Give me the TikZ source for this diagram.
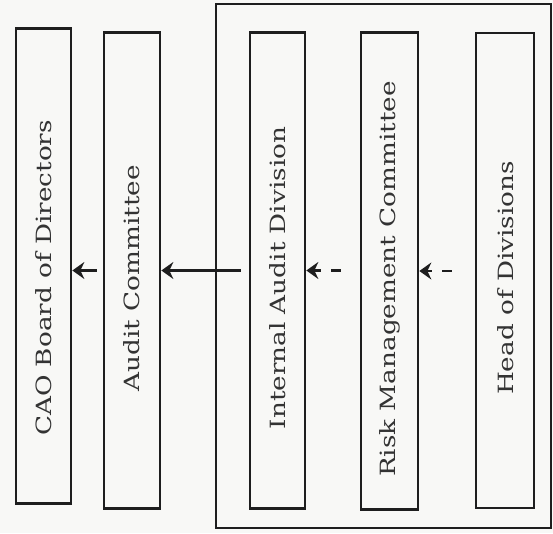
\documentclass[tikz,border=0pt]{standalone}
\usepackage{fontspec}
\setmainfont{DejaVu Serif}
\usetikzlibrary{arrows.meta}
\definecolor{ink}{HTML}{1E1E1E}
\definecolor{txt}{HTML}{333333}
\definecolor{paper}{HTML}{F8F8F6}
\begin{document}
\begin{tikzpicture}[x=1pt,y=-1pt,
  box/.style={draw=ink, line width=2.7pt, minimum width=56pt, minimum height=476pt, inner sep=0pt},
  lbl/.style={text=txt, font=\fontsize{21}{25}\selectfont, inner sep=0pt},
  frame/.style={draw=ink, line width=2.7pt, inner sep=0pt},
  flow/.style={draw=ink, line width=2.6pt, -{Stealth[length=12pt,width=17pt,inset=4pt]}},
  dflow/.style={flow, dash pattern=on 10pt off 10pt},
]
\fill[paper] (0,0) rectangle (553,533);
\useasboundingbox (0,0) rectangle (553,533);
% outer frame
\node[frame, minimum width=335pt, minimum height=524pt] (outer) at (383.5,266) {};
% boxes
\node[box, minimum width=55pt, minimum height=475pt] (cao) at (43.5,266) {};
\node[box] (ac) at (132,270.5) {};
\node[box, minimum width=55pt] (iad) at (277.5,270.5) {};
\node[box, minimum width=57pt, minimum height=477pt] (rm) at (389.5,271) {};
\node[box, minimum width=58pt, minimum height=475pt] (hd) at (505,270.5) {};
% labels
\newcommand{\vlabel}[1]{\rotatebox{90}{\scalebox{1.25}[1]{#1}}}
\node[lbl] (caoT) at (44,278) {\vlabel{CAO Board of Directors}};
\node[lbl] (acT) at (132,278) {\vlabel{Audit Committee}};
\node[lbl] (iadT) at (278,278) {\vlabel{Internal Audit Division}};
\node[lbl] (rmT) at (390,279) {\vlabel{Risk Management Committee}};
\node[lbl] (hdT) at (506,278) {\vlabel{Head of Divisions}};
% connectors
\draw[flow, shorten <=6pt] (ac.west) -- (ac.west -| cao.east);
\draw[flow, shorten <=8pt] (iad.west) -- (iad.west -| ac.east);
\draw[dflow, shorten <=19pt] (rm.west |- iad.west) -- (iad.east);
\draw[dflow, shorten <=23pt] (hd.west |- rm.east) -- (rm.east);
\end{tikzpicture}
\end{document}
